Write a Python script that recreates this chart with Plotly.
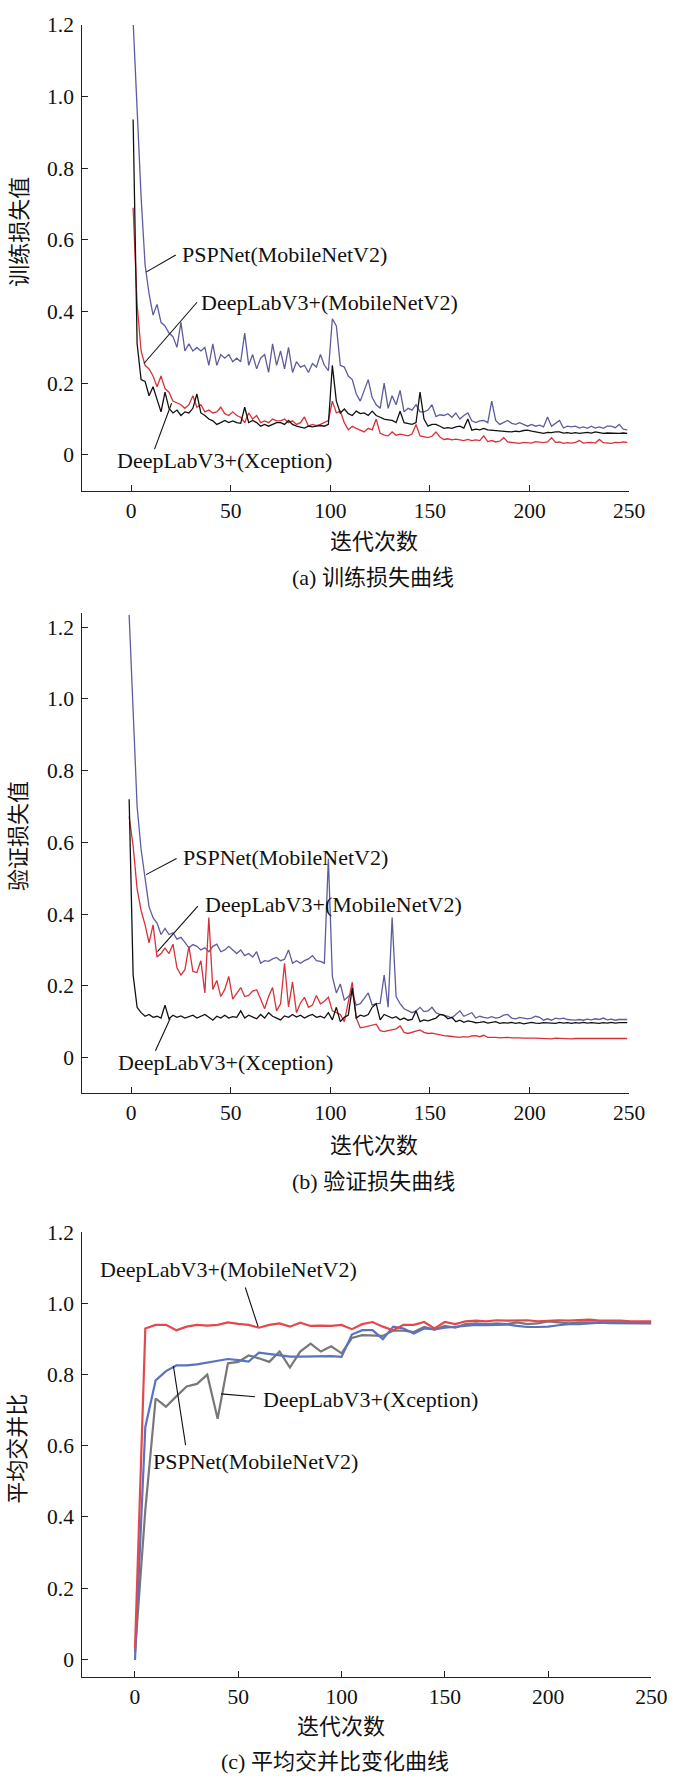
import plotly.graph_objects as go

# ---------------- datos ----------------
# (a) pérdida de entrenamiento, épocas 1,3,...,249
EPOCHS_A = list(range(1, 251, 2))
train_psp = [1.21, 0.95, 0.72, 0.53, 0.45, 0.39, 0.42, 0.37, 0.36, 0.34,
             0.33, 0.30, 0.37, 0.29, 0.31, 0.29, 0.30, 0.29, 0.30, 0.25,
             0.31, 0.25, 0.28, 0.27, 0.28, 0.26, 0.27, 0.26, 0.34, 0.25,
             0.28, 0.24, 0.27, 0.28, 0.23, 0.31, 0.25, 0.29, 0.24, 0.30,
             0.23, 0.26, 0.245, 0.25, 0.23, 0.255, 0.245, 0.28, 0.25, 0.235,
             0.38, 0.36, 0.25, 0.245, 0.22, 0.21, 0.17, 0.15, 0.18, 0.21,
             0.16, 0.14, 0.13, 0.20, 0.13, 0.165, 0.14, 0.18, 0.12, 0.13,
             0.125, 0.14, 0.12, 0.12, 0.125, 0.14, 0.107, 0.112, 0.11, 0.115,
             0.105, 0.117, 0.10, 0.11, 0.117, 0.095, 0.09, 0.095, 0.096, 0.09,
             0.15, 0.096, 0.085, 0.09, 0.096, 0.088, 0.085, 0.09, 0.085, 0.08,
             0.085, 0.08, 0.083, 0.078, 0.106, 0.08, 0.088, 0.096, 0.075, 0.08,
             0.078, 0.08, 0.075, 0.078, 0.074, 0.08, 0.075, 0.078, 0.074, 0.08,
             0.08, 0.076, 0.085, 0.072, 0.07]
train_dl_mob = [0.69, 0.42, 0.29, 0.25, 0.24, 0.22, 0.19, 0.22, 0.185, 0.175,
                0.15, 0.145, 0.14, 0.13, 0.14, 0.165, 0.133, 0.14, 0.12, 0.125,
                0.117, 0.12, 0.133, 0.115, 0.11, 0.12, 0.11, 0.105, 0.09, 0.117,
                0.10, 0.11, 0.09, 0.095, 0.09, 0.10, 0.095, 0.095, 0.10, 0.09,
                0.095, 0.085, 0.09, 0.106, 0.08, 0.085, 0.082, 0.085, 0.09, 0.096,
                0.15, 0.117, 0.122, 0.09, 0.07, 0.08, 0.074, 0.068, 0.064, 0.074,
                0.07, 0.10, 0.06, 0.055, 0.053, 0.064, 0.055, 0.058, 0.055, 0.053,
                0.058, 0.085, 0.053, 0.05, 0.048, 0.052, 0.064, 0.05, 0.043, 0.045,
                0.042, 0.044, 0.043, 0.04, 0.043, 0.04, 0.042, 0.04, 0.053, 0.037,
                0.04, 0.036, 0.038, 0.048, 0.036, 0.035, 0.034, 0.032, 0.035, 0.034,
                0.033, 0.037, 0.035, 0.034, 0.036, 0.048, 0.035, 0.036, 0.032, 0.034,
                0.033, 0.035, 0.04, 0.033, 0.034, 0.035, 0.033, 0.043, 0.034, 0.033,
                0.032, 0.035, 0.034, 0.036, 0.035]
train_dl_xce = [0.936, 0.31, 0.21, 0.205, 0.165, 0.19, 0.155, 0.12, 0.175, 0.13,
                0.117, 0.125, 0.11, 0.12, 0.117, 0.13, 0.17, 0.117, 0.11, 0.10,
                0.095, 0.085, 0.09, 0.096, 0.09, 0.095, 0.09, 0.088, 0.133, 0.09,
                0.096, 0.09, 0.08, 0.085, 0.08, 0.085, 0.09, 0.09, 0.085, 0.096,
                0.085, 0.08, 0.078, 0.075, 0.08, 0.078, 0.08, 0.082, 0.08, 0.085,
                0.25, 0.15, 0.117, 0.128, 0.115, 0.11, 0.122, 0.115, 0.117, 0.11,
                0.122, 0.11, 0.105, 0.10, 0.098, 0.096, 0.09, 0.122, 0.09, 0.088,
                0.085, 0.09, 0.175, 0.10, 0.08, 0.085, 0.085, 0.08, 0.074, 0.076,
                0.074, 0.078, 0.08, 0.075, 0.10, 0.069, 0.072, 0.07, 0.074, 0.07,
                0.069, 0.07, 0.067, 0.068, 0.066, 0.064, 0.066, 0.065, 0.068, 0.069,
                0.066, 0.064, 0.062, 0.06, 0.063, 0.062, 0.064, 0.064, 0.061, 0.062,
                0.06, 0.062, 0.06, 0.061, 0.063, 0.061, 0.064, 0.062, 0.06, 0.061,
                0.06, 0.061, 0.06, 0.061, 0.06]

# (b) pérdida de validación, épocas -1,1,3,...,249
EPOCHS_B = [-1] + list(range(1, 251, 2))
val_psp = [1.234, 0.98, 0.70, 0.58, 0.50, 0.42, 0.39, 0.375, 0.343, 0.36, 0.343,
           0.348, 0.33, 0.335, 0.321, 0.306, 0.315, 0.31, 0.30, 0.306, 0.295,
           0.31, 0.316, 0.295, 0.30, 0.31, 0.30, 0.29, 0.30, 0.284, 0.29,
           0.28, 0.295, 0.263, 0.27, 0.268, 0.275, 0.279, 0.27, 0.274, 0.30,
           0.263, 0.27, 0.263, 0.27, 0.275, 0.284, 0.27, 0.268, 0.263, 0.555,
           0.226, 0.18, 0.205, 0.16, 0.17, 0.18, 0.146, 0.15, 0.165, 0.18,
           0.146, 0.15, 0.151, 0.23, 0.14, 0.39, 0.17, 0.15, 0.136, 0.13,
           0.125, 0.13, 0.14, 0.128, 0.13, 0.14, 0.125, 0.12, 0.118, 0.115,
           0.11, 0.12, 0.13, 0.115, 0.12, 0.125, 0.11, 0.115, 0.112, 0.11,
           0.114, 0.11, 0.112, 0.118, 0.12, 0.11, 0.108, 0.112, 0.11, 0.108,
           0.11, 0.115, 0.112, 0.104, 0.108, 0.104, 0.11, 0.108, 0.11, 0.106,
           0.105, 0.104, 0.106, 0.104, 0.107, 0.105, 0.108, 0.106, 0.11, 0.105,
           0.107, 0.104, 0.106, 0.105, 0.106]
val_dl_mob = [0.672, 0.59, 0.47, 0.41, 0.37, 0.32, 0.37, 0.28, 0.29, 0.305, 0.29,
              0.316, 0.25, 0.23, 0.245, 0.31, 0.24, 0.237, 0.27, 0.18, 0.39,
              0.19, 0.215, 0.17, 0.19, 0.226, 0.163, 0.18, 0.195, 0.17, 0.173,
              0.185, 0.189, 0.163, 0.136, 0.17, 0.195, 0.13, 0.15, 0.263, 0.141,
              0.21, 0.125, 0.152, 0.168, 0.14, 0.146, 0.173, 0.15, 0.157, 0.168,
              0.13, 0.125, 0.12, 0.10, 0.16, 0.21, 0.11, 0.083, 0.085, 0.088,
              0.09, 0.093, 0.075, 0.072, 0.075, 0.077, 0.08, 0.088, 0.07, 0.067,
              0.07, 0.072, 0.077, 0.07, 0.067, 0.068, 0.065, 0.063, 0.061, 0.06,
              0.059, 0.058, 0.056, 0.058, 0.057, 0.06, 0.061, 0.058, 0.062, 0.056,
              0.057, 0.056, 0.055, 0.056, 0.056, 0.055, 0.056, 0.055, 0.054, 0.055,
              0.054, 0.054, 0.053, 0.054, 0.053, 0.052, 0.054, 0.053, 0.052, 0.053,
              0.052, 0.053, 0.053, 0.052, 0.053, 0.052, 0.053, 0.053, 0.052, 0.053,
              0.053, 0.052, 0.053, 0.053, 0.053]
val_dl_xce = [0.72, 0.23, 0.14, 0.125, 0.115, 0.12, 0.112, 0.115, 0.11, 0.146, 0.108,
              0.118, 0.112, 0.116, 0.11, 0.115, 0.118, 0.11, 0.114, 0.12, 0.112,
              0.104, 0.115, 0.11, 0.118, 0.11, 0.114, 0.112, 0.13, 0.11, 0.118,
              0.112, 0.108, 0.12, 0.11, 0.125, 0.115, 0.11, 0.105, 0.116, 0.112,
              0.12, 0.113, 0.118, 0.11, 0.116, 0.12, 0.112, 0.115, 0.11, 0.125,
              0.105, 0.14, 0.10, 0.112, 0.118, 0.194, 0.11, 0.118, 0.115, 0.12,
              0.14, 0.15, 0.105, 0.12, 0.115, 0.11, 0.114, 0.105, 0.11, 0.104,
              0.106, 0.13, 0.10, 0.105, 0.102, 0.106, 0.11, 0.12, 0.118, 0.108,
              0.112, 0.10, 0.104, 0.098, 0.102, 0.10, 0.097, 0.098, 0.10, 0.096,
              0.097, 0.10, 0.095, 0.097, 0.096, 0.098, 0.095, 0.097, 0.094, 0.096,
              0.098, 0.096, 0.095, 0.097, 0.096, 0.097, 0.095, 0.098, 0.096, 0.097,
              0.095, 0.097, 0.096, 0.098, 0.096, 0.097, 0.096, 0.095, 0.097, 0.096,
              0.098, 0.096, 0.097, 0.096, 0.097]

# (c) mIoU, cada 5 épocas
EPOCHS_C = list(range(0, 251, 5))
miou_psp = [-0.002, 0.653, 0.784, 0.81, 0.826, 0.826, 0.829, 0.834, 0.837, 0.844,
            0.841, 0.837, 0.862, 0.858, 0.855, 0.851, 0.851, 0.852, 0.852, 0.852,
            0.85, 0.913, 0.925, 0.925, 0.90, 0.935, 0.93, 0.916, 0.93, 0.927,
            0.932, 0.935, 0.937, 0.94, 0.939, 0.94, 0.941, 0.937, 0.934, 0.934,
            0.935, 0.939, 0.942, 0.942, 0.944, 0.946, 0.945, 0.944, 0.944, 0.944,
            0.944]
miou_dl_mob = [0.03, 0.93, 0.94, 0.94, 0.925, 0.935, 0.94, 0.938, 0.94, 0.947,
               0.943, 0.94, 0.932, 0.94, 0.944, 0.935, 0.946, 0.937, 0.938, 0.937,
               0.94, 0.928, 0.942, 0.948, 0.935, 0.925, 0.94, 0.94, 0.948, 0.93,
               0.948, 0.942, 0.95, 0.952, 0.95, 0.953, 0.952, 0.952, 0.953, 0.95,
               0.952, 0.953, 0.952, 0.953, 0.955, 0.952, 0.953, 0.952, 0.95, 0.95,
               0.95]
miou_dl_xce = [0.019, 0.42, 0.733, 0.71, 0.739, 0.767, 0.774, 0.80, 0.676, 0.832,
               0.836, 0.854, 0.846, 0.836, 0.865, 0.82, 0.865, 0.887, 0.865, 0.88,
               0.86, 0.903, 0.911, 0.911, 0.909, 0.924, 0.924, 0.92, 0.934, 0.927,
               0.937, 0.932, 0.942, 0.944, 0.942, 0.944, 0.942, 0.947, 0.942, 0.944,
               0.95, 0.947, 0.944, 0.947, 0.947, 0.948, 0.947, 0.947, 0.946, 0.947,
               0.947]

for serie in (train_psp, train_dl_mob, train_dl_xce):
    assert len(serie) == len(EPOCHS_A)
for serie in (val_psp, val_dl_mob, val_dl_xce):
    assert len(serie) == len(EPOCHS_B)
for serie in (miou_psp, miou_dl_mob, miou_dl_xce):
    assert len(serie) == len(EPOCHS_C)

Y_TICKS = [0, 0.2, 0.4, 0.6, 0.8, 1.0, 1.2]
Y_TEXT = ["0", "0.2", "0.4", "0.6", "0.8", "1.0", "1.2"]
X_TICKS = [0, 50, 100, 150, 200, 250]

# etiquetas: (texto, x, y, línea guía x0, y0, x1, y1)
labels_a = [("PSPNet(MobileNetV2)", 24.6, 0.558, 7.5, 0.51, 22.4, 0.558),
            ("DeepLabV3+(MobileNetV2)", 34.2, 0.426, 6.4, 0.255, 33.1, 0.426),
            ("DeepLabV3+(Xception)", -7.9, -0.016, 20.3, 0.144, 11.75, 0.016)]
labels_b = [("PSPNet(MobileNetV2)", 24.9, 0.558, 7.5, 0.51, 22.8, 0.555),
            ("DeepLabV3+(MobileNetV2)", 36.2, 0.428, 13.2, 0.295, 33.5, 0.422),
            ("DeepLabV3+(Xception)", -7.5, -0.013, 19.6, 0.109, 12.2, 0.019)]
labels_c = [("DeepLabV3+(MobileNetV2)", -18.1, 1.097, 53.4, 1.045, 59.6, 0.935),
            ("DeepLabV3+(Xception)", 60.8, 0.731, 58.1, 0.738, 41.6, 0.746),
            ("PSPNet(MobileNetV2)", 7.6, 0.555, 24.5, 0.602, 18.6, 0.824)]

# ---------------- figura ----------------
W, H = 683, 1778
FONT = "Liberation Serif, Noto Sans CJK SC"


def px_x(p):
    return p / W


def px_y(p):
    return 1 - p / H


fig = go.Figure()

# colores
AZUL_AB = "#5c5c9f"
ROJO_AB = "#d8313a"
NEGRO = "#111111"
ROJO_C = "#e3484c"
AZUL_C = "#5a72bf"
GRIS_C = "#787878"

fig.add_trace(go.Scatter(x=EPOCHS_A, y=train_psp, mode="lines", line=dict(color=AZUL_AB, width=1.3), xaxis="x", yaxis="y"))
fig.add_trace(go.Scatter(x=EPOCHS_A, y=train_dl_mob, mode="lines", line=dict(color=ROJO_AB, width=1.3), xaxis="x", yaxis="y"))
fig.add_trace(go.Scatter(x=EPOCHS_A, y=train_dl_xce, mode="lines", line=dict(color=NEGRO, width=1.3), xaxis="x", yaxis="y"))

fig.add_trace(go.Scatter(x=EPOCHS_B, y=val_psp, mode="lines", line=dict(color=AZUL_AB, width=1.3), xaxis="x2", yaxis="y2"))
fig.add_trace(go.Scatter(x=EPOCHS_B, y=val_dl_mob, mode="lines", line=dict(color=ROJO_AB, width=1.3), xaxis="x2", yaxis="y2"))
fig.add_trace(go.Scatter(x=EPOCHS_B, y=val_dl_xce, mode="lines", line=dict(color=NEGRO, width=1.3), xaxis="x2", yaxis="y2"))

fig.add_trace(go.Scatter(x=EPOCHS_C, y=miou_dl_xce, mode="lines", line=dict(color=GRIS_C, width=2.2), xaxis="x3", yaxis="y3"))
fig.add_trace(go.Scatter(x=EPOCHS_C, y=miou_psp, mode="lines", line=dict(color=AZUL_C, width=2.2), xaxis="x3", yaxis="y3"))
fig.add_trace(go.Scatter(x=EPOCHS_C, y=miou_dl_mob, mode="lines", line=dict(color=ROJO_C, width=2.2), xaxis="x3", yaxis="y3"))

eje = dict(showgrid=False, zeroline=False, showline=True, linecolor="#222222", linewidth=1.3,
           ticks="inside", ticklen=6, tickwidth=1.3, tickcolor="#222222",
           tickfont=dict(family=FONT, size=21.5, color="#111111"))

# dominios en píxeles (izq, der, arriba, abajo) y rangos
paneles = [
    (84.3, 644.3, 14.0, 482.7, [-24.5, 250], [-0.1, 1.2]),
    (84.3, 644.3, 605.6, 1089.1, [-24.5, 250], [-0.1, 1.24]),
    (84.3, 667.0, 1229.0, 1676.4, [-25.5, 250], [-0.05, 1.2]),
]
layout_axes = {}
for i, (l, r, t, b, xr, yr) in enumerate(paneles, start=1):
    sfx = "" if i == 1 else str(i)
    layout_axes["xaxis" + sfx] = dict(eje, domain=[px_x(l), px_x(r)], range=xr, anchor="y" + sfx,
                                      tickvals=X_TICKS)
    layout_axes["yaxis" + sfx] = dict(eje, domain=[px_y(b), px_y(t)], range=yr, anchor="x" + sfx,
                                      tickvals=Y_TICKS, ticktext=Y_TEXT, ticklabelstandoff=3)

fig.update_layout(**layout_axes)

# etiquetas de series y líneas guía
shapes = []
annotations = []
for labels, sfx in ((labels_a, ""), (labels_b, "2"), (labels_c, "3")):
    for texto, tx, ty, x0, y0, x1, y1 in labels:
        annotations.append(dict(text=texto, x=tx, y=ty, xref="x" + sfx, yref="y" + sfx,
                                xanchor="left", yanchor="middle", showarrow=False,
                                font=dict(family=FONT, size=22, color="#111111")))
        shapes.append(dict(type="line", x0=x0, y0=y0, x1=x1, y1=y1, xref="x" + sfx, yref="y" + sfx,
                           line=dict(color="#111111", width=1.1)))

# títulos de ejes y pies de figura (posición en píxeles)
textos = [
    ("训练损失值", 19.6, 222, -90),
    ("迭代次数", 382.8, 534, 0),
    ("(a) 训练损失曲线", 382, 570.5, 0),
    ("验证损失值", 19.6, 830, -90),
    ("迭代次数", 382.8, 1142, 0),
    ("(b) 验证损失曲线", 382, 1178, 0),
    ("平均交并比", 17, 1447, -90),
    ("迭代次数", 348.7, 1726, 0),
    ("(c) 平均交并比变化曲线", 343.5, 1761, 0),
]
for texto, cx, cy, ang in textos:
    annotations.append(dict(text=texto, x=px_x(cx), y=px_y(cy), xref="paper", yref="paper",
                            xanchor="center", yanchor="middle", showarrow=False, textangle=ang,
                            font=dict(family=FONT, size=22, color="#111111")))

fig.update_layout(
    width=W, height=H,
    margin=dict(l=0, r=0, t=0, b=0),
    paper_bgcolor="white", plot_bgcolor="white",
    showlegend=False,
    shapes=shapes,
    annotations=annotations,
)

# quitar el margen del body para que la figura ocupe justo la ventana
fig.write_html("out.html", config={"displayModeBar": False},
               post_script="document.body.style.margin='0';")
